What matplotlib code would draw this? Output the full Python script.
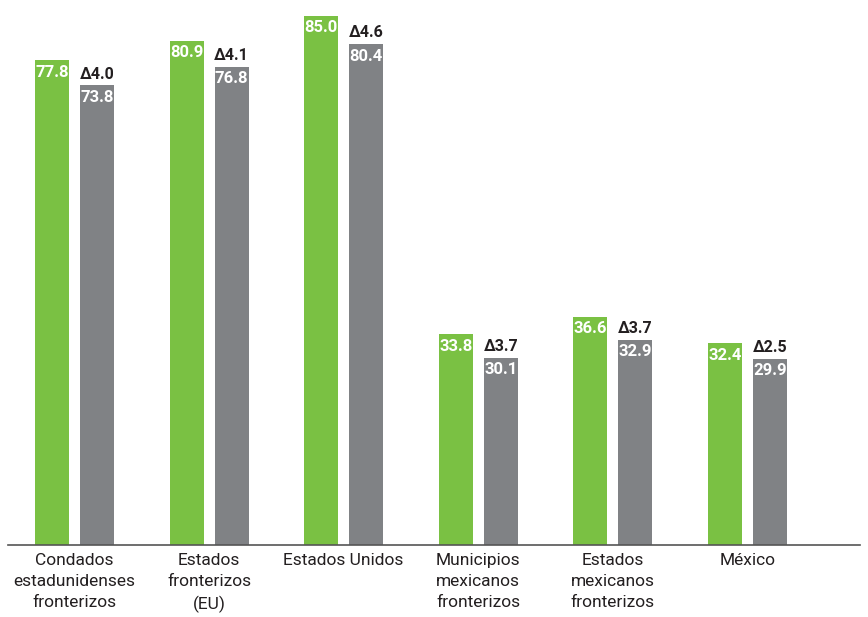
import numpy as np
import matplotlib
matplotlib.use("Agg")
import matplotlib.pyplot as plt

# data
categories = ["Condados\nestadunidenses\nfronterizos", "Estados\nfronterizos\n(EU)",
              "Estados Unidos", "Municipios\nmexicanos\nfronterizos",
              "Estados\nmexicanos\nfronterizos", "México"]
recent = [77.8, 80.9, 85.0, 33.8, 36.6, 32.4]
earlier = [73.8, 76.8, 80.4, 30.1, 32.9, 29.9]
deltas = ["4.0", "4.1", "4.6", "3.7", "3.7", "2.5"]

GREEN = "#7AC143"
GRAY = "#808285"
plt.rcParams["font.family"] = ["Roboto", "DejaVu Sans"]

fig = plt.figure(figsize=(8.68, 6.17), dpi=100)
ax = fig.add_axes([8 / 868, 72 / 617, 852 / 868, 545 / 617])

x = np.arange(len(categories))
w = 0.2526
off = 0.167
ax.bar(x - off, recent, w, color=GREEN)
ax.bar(x + off, earlier, w, color=GRAY)

for xi, g, e, d in zip(x, recent, earlier, deltas):
    ax.text(xi - off, g - 0.7, f"{g:.1f}", ha="center", va="top", color="white",
            fontsize=12, fontweight="bold")
    ax.text(xi + off, e - 0.7, f"{e:.1f}", ha="center", va="top", color="white",
            fontsize=12, fontweight="bold")
    ax.text(xi + off, e + 0.6, "Δ" + d, ha="center", va="bottom", color="#231F20",
            fontsize=11.5, fontweight="bold")

ax.set_xlim(-0.494, 5.836)
ax.set_ylim(0, 87.5)
ax.set_yticks([])
ax.set_xticks(x)
ax.set_xticklabels(categories, fontsize=12.5, color="#231F20", linespacing=1.5)
ax.tick_params(axis="x", length=0, pad=6)
for s in ["top", "right", "left"]:
    ax.spines[s].set_visible(False)
ax.spines["bottom"].set_color("#555555")
ax.spines["bottom"].set_linewidth(1.2)

fig.savefig("out.png", dpi=100)
